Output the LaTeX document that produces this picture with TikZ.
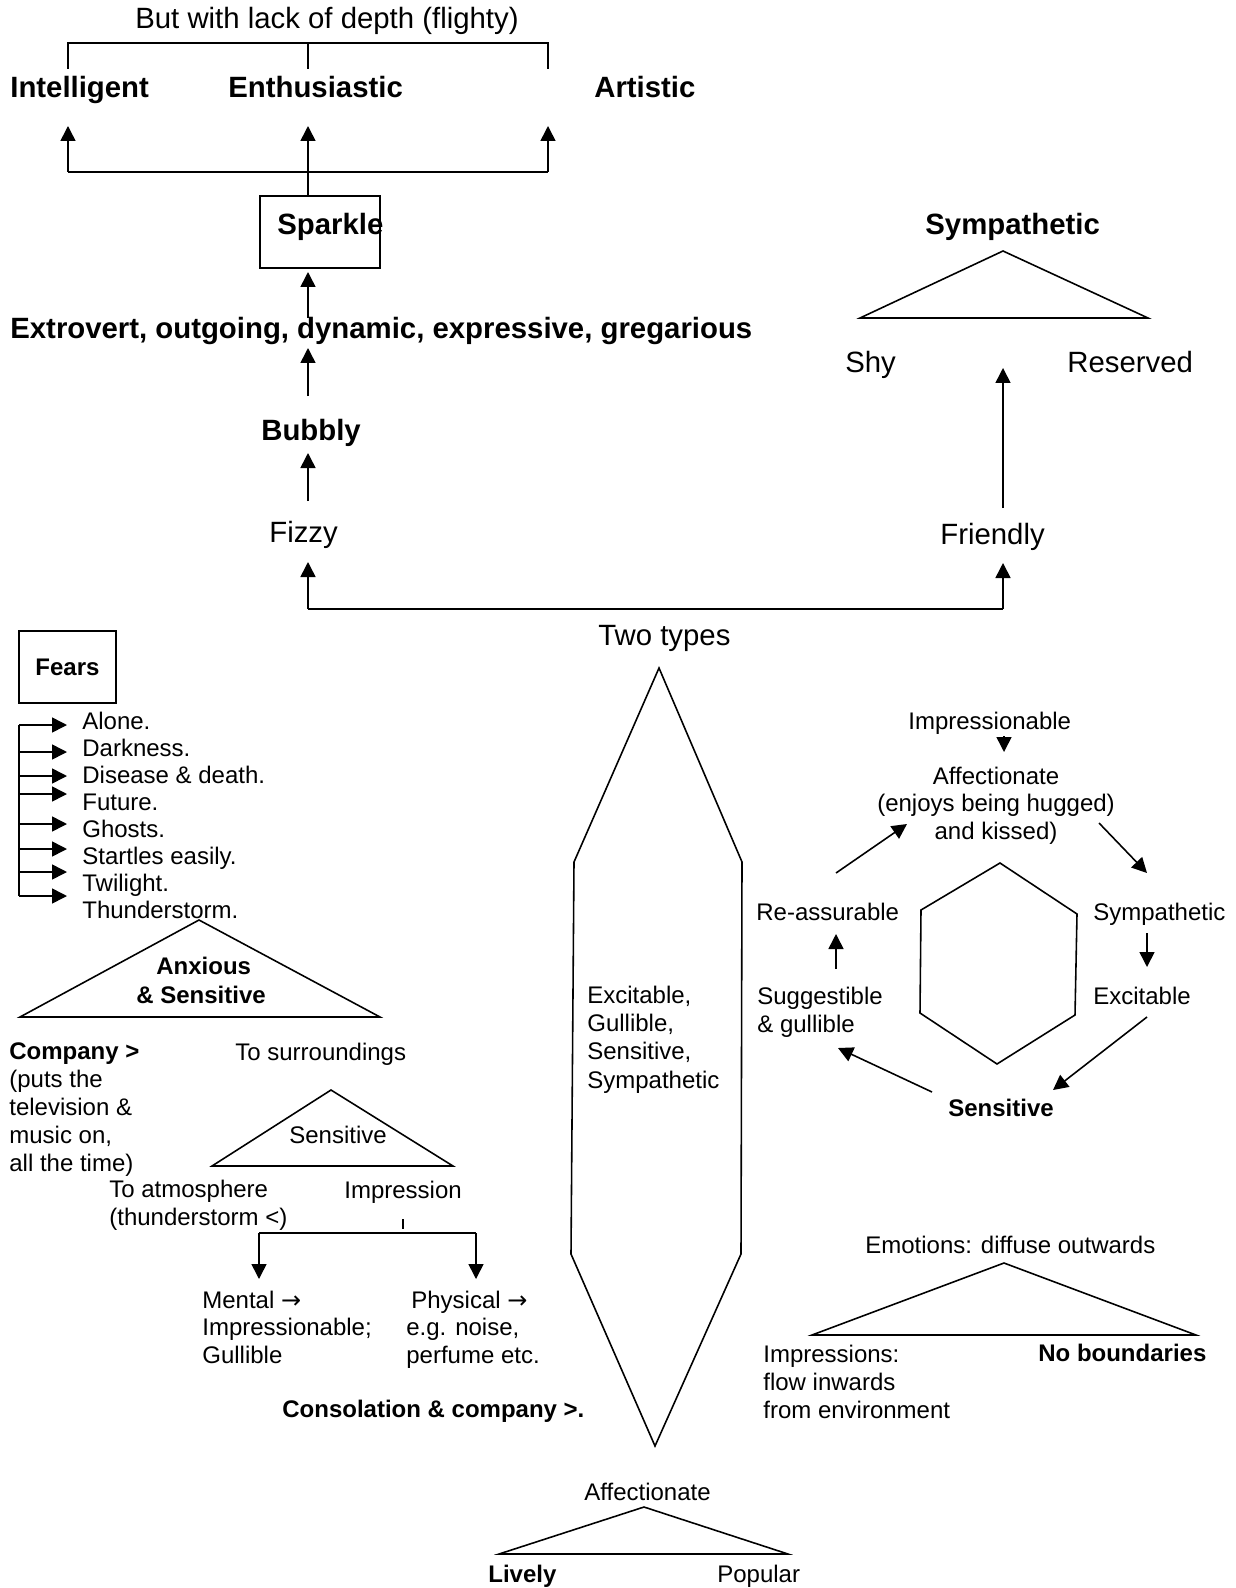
\documentclass[tikz,border=0pt]{standalone}
\usepackage{fontspec}
\setmainfont{Liberation Sans}
\newfontfamily\arrowfont{DejaVu Sans}
\usetikzlibrary{arrows.meta}

\newcommand{\smalltext}{\fontsize{13.66}{15.4}\selectfont}
\newcommand{\bigtext}{\fontsize{16.7}{19.2}\selectfont}
\newcommand{\rarr}{{\arrowfont\char"2192}}

\begin{document}
\begin{tikzpicture}[x=0.02cm,y=-0.02cm]
\tikzset{link/.style={draw=black,line width=0.9pt}}
\tikzset{linkarrow/.style={draw=black,line width=0.9pt,-{Triangle[length=3mm,width=3mm]}}}
\tikzset{outline/.style={draw=black,line width=0.9pt,line join=miter}}
\tikzset{smalltxt/.style={inner sep=0pt,anchor=base west,font=\smalltext,align=left}}
\tikzset{smallbold/.style={smalltxt,font=\smalltext\bfseries}}
\tikzset{bigtxt/.style={inner sep=0pt,anchor=base west,font=\bigtext}}
\tikzset{bigbold/.style={bigtxt,font=\bigtext\bfseries}}

\fill[white] (0,0) rectangle (1235,1588);
\useasboundingbox (0,0) rectangle (1235,1588);


\node[bigtxt] (depth) at (135,29) {But with lack of depth (flighty)};
\coordinate (depthl) at (68,43);
\coordinate (depthm) at (308,43);
\coordinate (depthr) at (548,43);
\coordinate (intelligentin) at (68,69);
\coordinate (enthusiasticin) at (308,69);
\coordinate (artisticin) at (548,69);
\path[link] (intelligentin) -- (depthl) -- (depthr) -- (artisticin);
\path[link] (depthm) -- (enthusiasticin);

\node[bigbold] (intelligent) at (10,98) {Intelligent};
\node[bigbold] (enthusiastic) at (228,98) {Enthusiastic};
\node[bigbold] (artistic) at (594,98) {Artistic};

\coordinate (splitl) at (68,172);
\coordinate (splitr) at (548,172);
\coordinate (tipl) at (68,126);
\coordinate (tipm) at (308,126);
\coordinate (tipr) at (548,126);
\path[link] (splitl) -- (splitr);
\path[linkarrow] (splitl) -- (tipl);
\path[linkarrow] (splitr) -- (tipr);

\node[draw=black,line width=0.9pt,minimum width=2.4cm,minimum height=1.44cm,inner sep=0pt] (sparklebox) at (320,232) {};
\node[bigbold] (sparkle) at (277,235) {Sparkle};
\path[linkarrow] (sparklebox.north -| tipm) -- (tipm);

\node[bigbold] (extrovert) at (10,338) {Extrovert, outgoing, dynamic, expressive, gregarious};
\coordinate (extroverttop) at (308,318);
\coordinate (sparklein) at (308,272);
\path[linkarrow] (extroverttop) -- (sparklein);

\coordinate (bubblyout) at (308,396);
\coordinate (extrovertin) at (308,348);
\path[linkarrow] (bubblyout) -- (extrovertin);
\node[bigbold] (bubbly) at (261,440) {Bubbly};

\coordinate (fizzyout) at (308,501);
\coordinate (bubblyin) at (308,453);
\path[linkarrow] (fizzyout) -- (bubblyin);
\node[bigtxt] (fizzy) at (269,542) {Fizzy};

\coordinate (typesl) at (308,609);
\coordinate (typesr) at (1003,609);
\coordinate (fizzyin) at (308,562);
\coordinate (friendlyin) at (1003,563);
\path[link] (typesl) -- (typesr);
\path[linkarrow] (typesl) -- (fizzyin);
\path[linkarrow] (typesr) -- (friendlyin);
\node[bigtxt] (twotypes) at (598,645) {Two types};
\node[bigtxt] (friendly) at (940,544) {Friendly};

\coordinate (friendlyout) at (1003,508);
\coordinate (shyin) at (1003,368);
\path[linkarrow] (friendlyout) -- (shyin);
\node[bigtxt] (shy) at (845,372) {Shy};
\node[bigtxt] (reserved) at (1067,372) {Reserved};
\path[outline] (1003,251) -- (1148,318) -- (860,318) -- cycle;
\node[bigbold] (sympathetic) at (925,235) {Sympathetic};


\node[draw=black,line width=0.9pt,minimum width=1.94cm,minimum height=1.44cm,inner sep=0pt,font=\smalltext\bfseries] (fears) at (67.5,667) {Fears};
\foreach \fear [count=\i] in {Alone.,Darkness.,Disease \& death.,Future.,Ghosts.,Startles easily.,Twilight.,Thunderstorm.} {
  \node[smalltxt] (fear\i) at (82,702+27*\i) {\fear};
}
\coordinate (fearstop) at (19,725);
\coordinate (fearsbottom) at (19,896);
\path[link] (fearstop) -- (fearsbottom);
\foreach \y [count=\i] in {725,752,776,794,824,849,872,896} {
  \coordinate (fearout\i) at (19,\y);
  \coordinate (fearin\i) at (67,\y);
  \path[linkarrow] (fearout\i) -- (fearin\i);
}

\path[outline] (199,920) -- (380,1017) -- (20,1017) -- cycle;
\node[smallbold] (anxious) at (156,974) {Anxious};
\node[smallbold] (anxioussens) at (136,1003) {\& Sensitive};

\node[smalltxt,font=\fontsize{13.66}{15.8}\selectfont] (company) at (9,1171) {\textbf{Company >}\\(puts the\\television \&\\music on,\\all the time)};

\node[smalltxt] (surroundings) at (235,1060) {To surroundings};
\path[outline] (331,1090) -- (453,1166) -- (212,1166) -- cycle;
\node[smalltxt] (sensitive) at (289,1143) {Sensitive};
\node[smalltxt] (atmosphere) at (109,1225) {To atmosphere\\(thunderstorm <)};
\node[smalltxt] (impression) at (344,1198) {Impression};

\coordinate (impressiontick) at (403,1219);
\coordinate (impressionsplit) at (403,1229);
\path[link] (impressiontick) -- (impressionsplit);
\coordinate (splitmental) at (259,1233);
\coordinate (splitphysical) at (476,1233);
\coordinate (mentalin) at (259,1279);
\coordinate (physicalin) at (476,1279);
\path[link] (splitmental) -- (splitphysical);
\path[linkarrow] (splitmental) -- (mentalin);
\path[linkarrow] (splitphysical) -- (physicalin);

\node[smalltxt,font=\fontsize{13.66}{15.6}\selectfont] (mental) at (202,1363) {Mental \rarr\\Impressionable;\\Gullible};
\node[smalltxt] (physical) at (411,1308) {Physical \rarr};
\node[smalltxt,font=\fontsize{13.66}{15.6}\selectfont] (physicalex) at (406,1363) {e.g. noise,\\perfume etc.};
\node[smallbold] (consolation) at (282,1417) {Consolation \& company >.};


\path[outline] (659,668) -- (742,862) -- (741,1254) -- (655,1446) -- (571,1254) -- (574,862) -- cycle;
\node[smalltxt,font=\fontsize{13.66}{16}\selectfont] (traits) at (587,1088) {Excitable,\\Gullible,\\Sensitive,\\Sympathetic};


\node[smalltxt] (impressionable) at (908,729) {Impressionable};
\coordinate (impressionableout) at (1004,736);
\coordinate (affectionatein) at (1004,752);
\path[linkarrow] (impressionableout) -- (affectionatein);
\node[smalltxt,align=center,anchor=base] (affectionate) at (996,839) {Affectionate\\(enjoys being hugged)\\and kissed)};

\coordinate (reassureout) at (836,873);
\coordinate (affectin) at (907,824);
\path[linkarrow] (reassureout) -- (affectin);
\coordinate (affectout) at (1099,823);
\coordinate (sympin) at (1147,873);
\path[linkarrow] (affectout) -- (sympin);

\node[smalltxt] (reassurable) at (756,920) {Re-assurable};
\node[smalltxt] (sympcycle) at (1093,920) {Sympathetic};
\coordinate (suggestout) at (836,969);
\coordinate (reassurein) at (836,934);
\path[linkarrow] (suggestout) -- (reassurein);
\coordinate (sympout) at (1147,933);
\coordinate (excitein) at (1147,967);
\path[linkarrow] (sympout) -- (excitein);

\node[smalltxt,font=\fontsize{13.66}{15.9}\selectfont] (suggestible) at (757,1032) {Suggestible\\\& gullible};
\node[smalltxt] (excitable) at (1093,1004) {Excitable};

\path[outline] (1000,863) -- (1077,914) -- (1075,1015) -- (997,1064) -- (920,1013) -- (921,910) -- cycle;

\coordinate (exciteout) at (1147,1017);
\coordinate (sensin) at (1053,1090);
\path[linkarrow] (exciteout) -- (sensin);
\coordinate (sensout) at (932,1092);
\coordinate (suggestin) at (838,1048);
\path[linkarrow] (sensout) -- (suggestin);
\node[smallbold] (senscycle) at (948,1116) {Sensitive};


\node[smalltxt] (emotions) at (865,1253) {Emotions: diffuse outwards};
\path[outline] (1004,1263) -- (1196,1335) -- (812,1335) -- cycle;
\node[smalltxt,font=\fontsize{13.66}{15.8}\selectfont] (impressions) at (763,1418) {Impressions:\\flow inwards\\from environment};
\node[smallbold] (boundaries) at (1038,1361) {No boundaries};


\node[smalltxt] (affectbottom) at (584,1500) {Affectionate};
\path[outline] (644,1507) -- (788,1554) -- (499,1554) -- cycle;
\node[smallbold] (lively) at (488,1582) {Lively};
\node[smalltxt] (popular) at (717,1582) {Popular};
\end{tikzpicture}
\end{document}
